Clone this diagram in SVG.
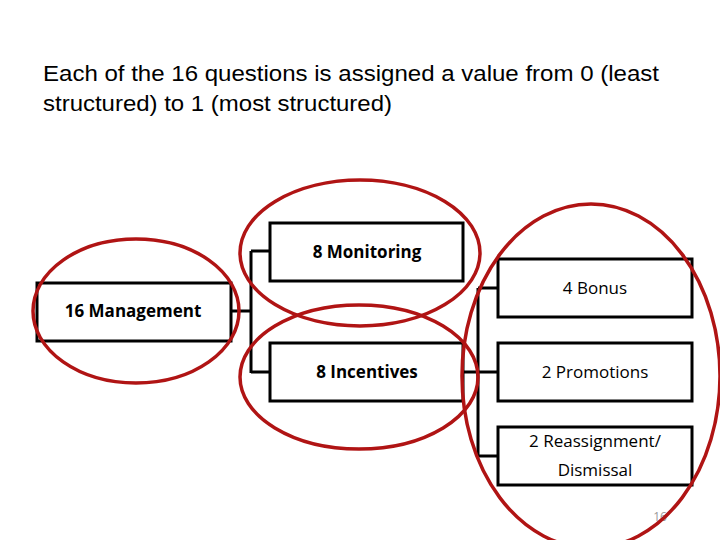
<svg xmlns="http://www.w3.org/2000/svg" width="720" height="540" viewBox="0 0 720 540">
<style>
.box{fill:#fff;stroke:#000;stroke-width:3}
.lbl{font-family:"Open Sans","Liberation Sans",sans-serif;font-size:17px;fill:#000;text-anchor:middle}
.b{font-weight:bold}
.con{fill:none;stroke:#000;stroke-width:3}
.ring{fill:none;stroke:#b01414;stroke-width:3.5}
.title{font-family:"Liberation Sans",Arial,sans-serif;font-size:22px;fill:#000}
</style>
<rect width="720" height="540" fill="#fff"/>
<text class="title" x="43" y="81" textLength="616" lengthAdjust="spacingAndGlyphs">Each of the 16 questions is assigned a value from 0 (least</text>
<text class="title" x="43" y="111" textLength="349" lengthAdjust="spacingAndGlyphs">structured) to 1 (most structured)</text>
<g id="connectors">
<path class="con" d="M231 311 H251 M251 251 V373 M251 251 H270 M251 372 H270"/>
<path class="con" d="M463 372 H478 M478 288 V456 M478 288 H498 M478 372 H498 M478 456 H498"/>
</g>
<g id="management"><rect class="box" x="37" y="283" width="194" height="58"/><text class="lbl b" x="133" y="317">16 Management</text></g>
<g id="monitoring"><rect class="box" x="270" y="223" width="193" height="58"/><text class="lbl b" x="367" y="258">8 Monitoring</text></g>
<g id="incentives"><rect class="box" x="270" y="343" width="193" height="58"/><text class="lbl b" x="367" y="378">8 Incentives</text></g>
<g id="bonus"><rect class="box" x="498" y="259" width="194" height="58"/><text class="lbl" x="595" y="294">4 Bonus</text></g>
<g id="promotions"><rect class="box" x="498" y="343" width="194" height="58"/><text class="lbl" x="595" y="378">2 Promotions</text></g>
<g id="reassignment"><rect class="box" x="498" y="427" width="194" height="58"/><text class="lbl" x="595" y="447">2 Reassignment/</text><text class="lbl" x="595" y="476">Dismissal</text></g>
<text x="660" y="521" font-family="'Open Sans','Liberation Sans',sans-serif" font-size="12" fill="#999" text-anchor="middle">16</text>
<g id="highlights">
<ellipse class="ring" cx="136" cy="311" rx="103" ry="72"/>
<ellipse class="ring" cx="360" cy="253" rx="120" ry="73"/>
<ellipse class="ring" cx="359" cy="377" rx="119" ry="72"/>
<ellipse class="ring" cx="591" cy="376" rx="129" ry="172"/>
</g>
</svg>
